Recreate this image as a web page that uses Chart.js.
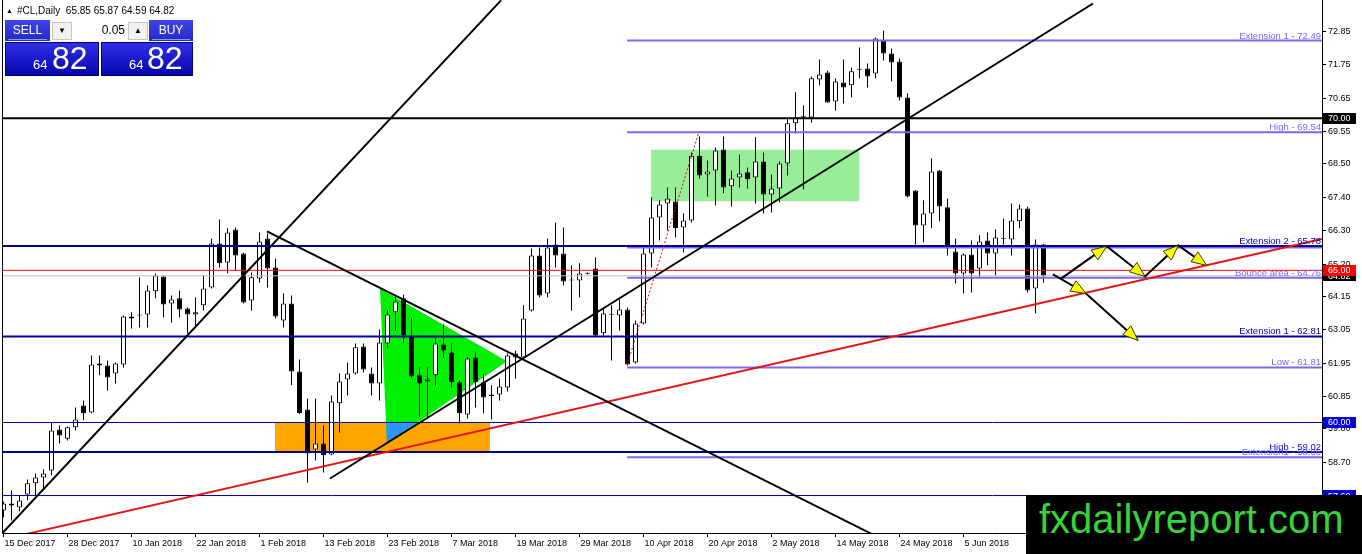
<!DOCTYPE html>
<html>
<head>
<meta charset="utf-8">
<title>#CL,Daily</title>
<script src="https://cdn.jsdelivr.net/npm/chart.js@4.4.1/dist/chart.umd.min.js"></script>
<style>
  html, body { margin: 0; padding: 0; background: #fff; }
  #wrap { position: relative; width: 1362px; height: 554px; overflow: hidden; font-family: "Liberation Sans", Arial, sans-serif; }
  #chart { position: absolute; left: 0; top: 0; }
  .abs { position: absolute; }
  #hdr { left: 6px; top: 5px; font-size: 10px; line-height: 12px; color: #000; white-space: nowrap; }
  #hdr .tri { font-size: 7px; position: relative; top: -1px; margin-right: 4px; }
  .btn { top: 20px; height: 21px; color: #fff; font-size: 12px; line-height: 20px; text-align: center;
         background: linear-gradient(#4046e6, #2329c4); }
  .btn i { position: absolute; left: 3px; right: 3px; bottom: 1px; height: 1px; background: #8f96f0; }
  #spin { left: 50px; top: 20px; width: 99px; height: 21px; background: #fff; }
  .arr { top: 2px; width: 18px; height: 16px; border: 1px solid #c6c6c6; background: #f2f2f2;
         font-size: 8px; line-height: 16px; text-align: center; color: #000; }
  #lot { right: 24px; top: 0; font-size: 12px; line-height: 21px; color: #000; }
  .big { top: 42px; height: 34px; box-sizing: border-box; border: 1px solid #00007c;
         background: linear-gradient(#3030e8, #0606ac); color: #fff; }
  .big .s { position: absolute; top: 15px; font-size: 13px; line-height: 1; }
  .big .b { position: absolute; top: -1px; font-size: 32px; line-height: 1; }
  #logo { left: 1026px; top: 495px; width: 336px; height: 59px; background: #000; }
  #logo span { position: absolute; left: 13px; top: 1px; font-size: 40px; line-height: 46px; color: #37d437; }
</style>
</head>
<body>
<div id="wrap">
  <canvas id="chart" width="1362" height="554"></canvas>

  <div id="hdr" class="abs"><span class="tri">▲</span>#CL,Daily&nbsp;&nbsp;65.85 65.87 64.59 64.82</div>

  <div class="abs btn" style="left:5px;width:45px;">SELL<i></i></div>
  <div id="spin" class="abs">
    <div class="abs arr" style="left:2px;">▼</div>
    <div id="lot" class="abs">0.05</div>
    <div class="abs arr" style="left:78px;">▲</div>
  </div>
  <div class="abs btn" style="left:149px;width:44px;">BUY<i></i></div>

  <div class="abs big" style="left:5px;width:94px;"><span class="s" style="left:27px;">64</span><span class="b" style="left:46px;">82</span></div>
  <div class="abs big" style="left:101px;width:92px;"><span class="s" style="left:27px;">64</span><span class="b" style="left:45px;">82</span></div>

  <div id="logo" class="abs"><span>fxdailyreport.com</span></div>
</div>

<script>
// #CL daily bars, 15 Dec 2017 -> mid Jun 2018 (one value per bar)
const opens = [
  57.11,57.34,57.21,57.63,58.00,58.19,58.42,59.77,59.47,59.84,
  60.56,60.33,61.94,61.87,61.61,61.91,63.42,63.55,63.55,64.31,
  64.80,63.91,64.08,63.75,63.55,63.85,64.44,65.88,65.26,66.34,
  65.55,64.01,64.73,66.05,65.09,63.35,63.91,61.68,60.43,59.11,
  59.31,58.95,60.63,61.41,61.61,62.50,61.61,61.28,62.60,63.62,
  64.08,62.86,61.55,61.35,61.55,62.56,62.30,61.32,60.26,62.14,
  61.32,60.86,60.92,61.15,62.27,62.14,63.68,65.49,64.24,65.85,
  65.55,64.70,64.67,64.90,65.06,62.93,63.56,63.52,63.71,61.97,
  63.25,65.55,66.74,67.20,67.26,66.41,66.64,68.77,68.15,68.28,
  68.97,67.76,68.05,68.22,68.05,68.58,67.49,67.69,68.51,69.83,
  70.06,70.02,71.27,71.50,70.55,71.17,71.08,71.59,71.63,71.47,
  72.55,72.13,71.86,70.68,67.62,66.47,66.87,68.28,67.07,65.62,
  64.90,65.52,65.06,65.98,65.55,66.04,66.01,66.61,67.03,64.40,
  65.85
];
const highs = [
  57.40,57.77,57.60,58.13,58.32,58.46,60.00,59.90,59.87,60.49,
  60.72,62.20,62.20,62.04,61.97,63.52,63.62,64.77,64.50,64.90,
  64.83,64.17,64.34,63.78,64.11,64.83,66.05,66.67,66.38,66.41,
  65.58,64.93,66.24,66.21,65.39,64.24,64.17,62.07,60.79,60.79,
  59.90,60.89,61.61,61.97,62.60,62.60,61.81,63.06,63.68,64.14,
  64.21,63.42,61.81,61.81,62.83,63.22,62.60,61.38,62.14,62.30,
  61.61,61.22,61.45,62.27,62.37,63.85,65.72,65.75,66.05,66.57,
  66.41,65.16,65.23,64.93,65.42,63.75,63.85,64.04,63.78,63.35,
  65.82,67.39,67.30,67.72,67.72,66.87,68.87,69.40,68.61,69.04,
  69.40,68.28,68.81,68.38,69.37,68.87,68.15,68.58,70.02,70.85,
  70.42,71.37,71.93,71.57,71.31,71.93,71.67,72.32,71.80,72.65,
  72.88,72.29,71.96,70.81,67.64,67.30,68.68,68.30,67.36,66.05,
  65.55,65.98,66.15,66.24,66.34,66.70,67.20,67.16,67.10,66.01,
  65.87
];
const lows = [
  56.88,56.78,57.08,57.44,57.60,57.77,58.26,59.31,59.41,59.74,
  60.07,60.30,61.55,61.05,61.28,61.81,63.09,63.12,63.12,64.08,
  63.45,63.29,63.45,62.93,63.19,63.68,64.40,65.09,64.90,65.00,
  63.91,63.68,64.60,64.44,63.42,63.12,61.22,60.28,58.03,58.75,
  58.36,58.92,59.67,60.89,61.58,61.64,60.89,60.72,62.43,63.02,
  62.60,61.48,60.17,60.17,61.22,62.14,61.15,59.97,60.13,60.49,
  60.30,60.10,60.72,61.02,61.45,62.10,63.65,64.11,64.11,65.09,
  64.50,63.68,64.11,64.86,62.83,62.86,62.04,63.02,61.87,61.94,
  63.22,65.09,65.98,66.31,66.08,65.59,66.57,68.02,67.43,67.13,
  67.53,67.10,67.72,67.69,67.20,66.87,66.90,67.23,68.12,69.50,
  67.66,69.86,71.08,70.50,70.25,70.48,70.68,71.31,71.01,71.31,
  71.90,71.21,70.58,67.39,65.85,65.92,66.38,66.61,65.49,64.57,
  64.24,64.27,64.77,65.16,64.83,65.85,65.49,66.38,64.27,63.58,
  64.59
];
const closes = [
  57.34,57.27,57.44,58.00,58.19,58.32,59.74,59.57,59.84,60.10,
  60.30,61.91,61.87,61.48,61.94,63.48,63.48,63.52,64.34,64.83,
  63.88,64.04,63.71,63.55,63.62,64.40,65.88,65.23,66.24,65.49,
  63.94,64.77,65.95,65.06,63.48,63.91,61.68,60.30,58.98,59.31,
  58.92,60.69,61.35,61.61,62.47,61.74,61.28,62.63,63.55,63.98,
  62.86,61.51,61.28,61.41,62.60,62.37,61.32,60.30,62.10,61.32,
  60.82,60.92,61.18,62.20,62.14,63.42,65.49,64.17,65.75,65.49,
  64.63,64.67,64.90,64.89,62.86,63.58,63.54,63.71,61.91,63.25,
  65.55,66.74,67.16,67.36,66.38,66.64,68.77,68.12,68.25,68.94,
  67.72,68.02,68.18,67.99,68.58,67.49,67.69,68.51,69.83,70.02,
  70.02,71.31,71.44,70.52,71.21,71.01,71.54,71.61,71.37,72.62,
  72.13,71.83,70.68,67.43,66.47,66.87,68.25,67.10,65.72,64.90,
  65.52,64.90,65.95,65.55,66.08,66.06,66.64,67.03,64.34,65.85,
  64.82
];

// time axis labels, one every 8 bars
const dateLabels = ['15 Dec 2017', '28 Dec 2017', '10 Jan 2018', '22 Jan 2018', '1 Feb 2018', '13 Feb 2018',
  '23 Feb 2018', '7 Mar 2018', '19 Mar 2018', '29 Mar 2018', '10 Apr 2018', '20 Apr 2018', '2 May 2018',
  '14 May 2018', '24 May 2018', '5 Jun 2018'];
const priceTicks = [72.85, 71.75, 70.65, 69.55, 68.50, 67.40, 66.30, 65.20, 64.15, 63.05, 61.95, 60.85, 59.80, 58.70, 57.60];

// horizontal levels
const blackLevels = [70.00];
const navyThickLevels = [65.80, 62.83, 59.03];
const navyThinLevels = [60.00, 57.60];
const redLevels = [65.00];
const bidLevels = [64.82];
const fibFrom = 77.95;
const fibLevels = [72.55, 69.54, 65.75, 64.76, 61.81, 58.86];

// level captions: text and the price they sit on
const captionTexts = ['Extension 1 - 72.49', 'High - 69.54', 'Bounce area - 64.76', 'Low - 61.81', 'Extension1 - 58.86',
  'Extension 2 - 65.78', 'Extension 1 - 62.81', 'High - 59.02'];
const captionPrices = [72.55, 69.54, 64.76, 61.81, 58.86, 65.80, 62.83, 59.03];

// trend lines [bar, price] -> [bar, price]
const riseLine = [[-0.19, 56.35], [62.19, 73.87]];
const fallLine = [[32.94, 66.28], [108.44, 56.35]];
const supportLine = [[40.81, 58.16], [136.19, 73.77]];
const redTrend = [[2.9, 56.34], [164.81, 66.03]];
const fibAnchor = [[77.94, 61.88], [86.94, 69.56]];

// projection paths
const pathUp = [[132.19, 64.73], [137.9, 65.79], [142.69, 64.80], [146.85, 65.82], [150.4, 65.16]];
const pathDown = [[131.19, 64.87], [135.31, 64.24], [141.81, 62.70]];

// shaded zones
const orangeZone = [[33.94, 60.00], [60.81, 60.00], [60.81, 59.02], [33.94, 59.02]];
const rangeZone = [[80.94, 68.96], [106.97, 68.96], [106.97, 67.27], [80.94, 67.27]];
const triangleZone = [[47.06, 64.40], [62.94, 62.01], [47.94, 59.31]];
const overlapZone = [[47.81, 60.00], [51.78, 60.00], [47.94, 59.31]];

// price tags on the axis
const tagPrices = [70.00, 64.82, 65.00, 60.00, 57.60];
const tagColors = ['#000000', '#000000', '#ff0000', '#0000dc', '#0000dc'];

const NAVY = '#00009c';
const PURPLE = '#7b68ee';
const FONT = '"Liberation Sans", Arial, sans-serif';

function seg(points, color, width, dash) {
  return {
    type: 'line',
    data: points.map(p => ({ x: p[0], y: p[1] })),
    borderColor: color,
    borderWidth: width,
    borderDash: dash || [],
    pointRadius: 0,
    fill: false,
    tension: 0,
    clip: 0,
    order: 1
  };
}
const full = p => [[-5, p], [200, p]];

const datasets = [];
// trend lines first so they end up on top
[riseLine, fallLine, supportLine].forEach(l => datasets.push(seg(l, '#000', 2)));
datasets.push(seg(redTrend, '#e31414', 2));
datasets.push(seg(fibAnchor, '#e00000', 1, [2, 2]));
datasets.push(seg(pathUp, '#000', 2));
datasets.push(seg(pathDown, '#000', 2));
blackLevels.forEach(p => datasets.push(seg(full(p), '#000', 2)));
redLevels.forEach(p => datasets.push(seg(full(p), '#ff0000', 1)));
bidLevels.forEach(p => datasets.push(seg(full(p), '#c0c0c0', 1)));
navyThickLevels.forEach(p => datasets.push(seg(full(p), NAVY, 2)));
navyThinLevels.forEach(p => datasets.push(seg(full(p), NAVY, 1)));
fibLevels.forEach(p => datasets.push(seg([[fibFrom, p], [200, p]], PURPLE, 2)));

// candles: body on top of the wick, both share one slot per bar
datasets.push({
  type: 'bar',
  data: opens.map((o, i) => ({ x: i, y: [o, closes[i]] })),
  backgroundColor: opens.map((o, i) => closes[i] >= o ? '#ffffff' : '#000000'),
  borderColor: '#000',
  borderWidth: 1,
  borderSkipped: false,
  barThickness: 5,
  minBarLength: 1,
  inflateAmount: 0,
  stack: 'candle',
  order: 10
});
datasets.push({
  type: 'bar',
  data: highs.map((h, i) => ({ x: i, y: [lows[i], h] })),
  backgroundColor: '#000',
  borderWidth: 0,
  barThickness: 1,
  inflateAmount: 0,
  stack: 'candle',
  order: 11
});

const overlay = {
  id: 'overlay',
  beforeDatasetsDraw(chart) {
    const { ctx, chartArea: a, scales: { x, y } } = chart;
    const zones = [[orangeZone, '#ffa500'], [rangeZone, '#98ee98'], [triangleZone, '#00f000'], [overlapZone, '#2e95f0']];
    ctx.save();
    ctx.beginPath();
    ctx.rect(a.left, a.top, a.width, a.height);
    ctx.clip();
    zones.forEach(([pts, color]) => {
      ctx.beginPath();
      pts.forEach((p, k) => {
        const px = x.getPixelForValue(p[0]), py = y.getPixelForValue(p[1]);
        if (k) ctx.lineTo(px, py); else ctx.moveTo(px, py);
      });
      ctx.closePath();
      ctx.fillStyle = color;
      ctx.fill();
    });
    ctx.restore();
  },
  afterDatasetsDraw(chart) {
    const { ctx, chartArea: a, scales: { x, y } } = chart;
    ctx.save();
    ctx.beginPath();
    ctx.rect(a.left, a.top, a.width, a.height);
    ctx.clip();

    // arrow heads at the end of every projection leg
    [pathUp, pathDown].forEach(path => {
      for (let k = 1; k < path.length; k++) {
        const x1 = x.getPixelForValue(path[k - 1][0]), y1 = y.getPixelForValue(path[k - 1][1]);
        const x2 = x.getPixelForValue(path[k][0]), y2 = y.getPixelForValue(path[k][1]);
        const ang = Math.atan2(y2 - y1, x2 - x1);
        const len = 15, half = 6;
        const bx = x2 - len * Math.cos(ang), by = y2 - len * Math.sin(ang);
        ctx.beginPath();
        ctx.moveTo(x2, y2);
        ctx.lineTo(bx + half * Math.sin(ang), by - half * Math.cos(ang));
        ctx.lineTo(bx - half * Math.sin(ang), by + half * Math.cos(ang));
        ctx.closePath();
        ctx.fillStyle = '#ffff00';
        ctx.fill();
        ctx.lineWidth = 1;
        ctx.strokeStyle = '#3a3a00';
        ctx.stroke();
      }
    });

    // captions on the levels
    const capColors = [PURPLE, PURPLE, PURPLE, PURPLE, PURPLE, NAVY, NAVY, '#1010d8'];
    ctx.font = '9.5px ' + FONT;
    ctx.textAlign = 'right';
    ctx.textBaseline = 'alphabetic';
    captionTexts.forEach((t, k) => {
      ctx.fillStyle = capColors[k];
      ctx.fillText(t, a.right - 1, y.getPixelForValue(captionPrices[k]) - 2);
    });
    ctx.restore();
  },
  afterDraw(chart) {
    const { ctx, chartArea: a, scales: { y } } = chart;
    ctx.save();
    // left frame
    ctx.strokeStyle = '#000';
    ctx.lineWidth = 1;
    ctx.beginPath();
    ctx.moveTo(a.left + 0.5, a.top);
    ctx.lineTo(a.left + 0.5, a.bottom);
    ctx.stroke();
    // price tags
    ctx.font = '9px ' + FONT;
    ctx.textAlign = 'left';
    ctx.textBaseline = 'middle';
    tagPrices.forEach((p, k) => {
      const py = y.getPixelForValue(p);
      ctx.fillStyle = tagColors[k];
      ctx.fillRect(a.right + 1, Math.round(py - 5.5), 33, 11);
      ctx.fillStyle = '#fff';
      ctx.fillText(p.toFixed(2), a.right + 6, py + 0.5);
    });
    ctx.restore();
  }
};

new Chart(document.getElementById('chart'), {
  type: 'bar',
  data: { datasets },
  options: {
    responsive: false,
    animation: false,
    devicePixelRatio: 1,
    events: [],
    layout: { padding: { left: 2, top: 0, right: 0, bottom: 0 } },
    plugins: { legend: { display: false }, tooltip: { enabled: false } },
    scales: {
      x: {
        type: 'linear',
        position: 'bottom',
        min: -0.1875,
        max: 164.8125,
        offset: false,
        grid: { offset: false, drawOnChartArea: false, tickLength: 4, color: '#000' },
        border: { color: '#000' },
        afterBuildTicks: s => { s.ticks = dateLabels.map((_, k) => ({ value: k * 8 })); },
        afterFit: s => { s.height = 21; s.paddingLeft = 0; s.paddingRight = 0; },
        ticks: {
          autoSkip: false, maxRotation: 0, minRotation: 0, align: 'start', padding: 1, labelOffset: 1,
          color: '#000', font: { family: FONT, size: 9 },
          callback: v => dateLabels[Math.round(v / 8)]
        }
      },
      y: {
        type: 'linear',
        position: 'right',
        min: 56.3687,
        max: 73.8843,
        beginAtZero: false,
        stacked: false,
        grid: { drawOnChartArea: false, tickLength: 4, color: '#000' },
        border: { color: '#000' },
        afterBuildTicks: s => { s.ticks = priceTicks.map(v => ({ value: v })); },
        afterFit: s => { s.width = 40; s.paddingTop = 0; s.paddingBottom = 0; },
        ticks: {
          autoSkip: false, padding: 2, color: '#000', font: { family: FONT, size: 9 },
          callback: v => v.toFixed(2)
        }
      }
    }
  },
  plugins: [overlay]
});
</script>
</body>
</html>
